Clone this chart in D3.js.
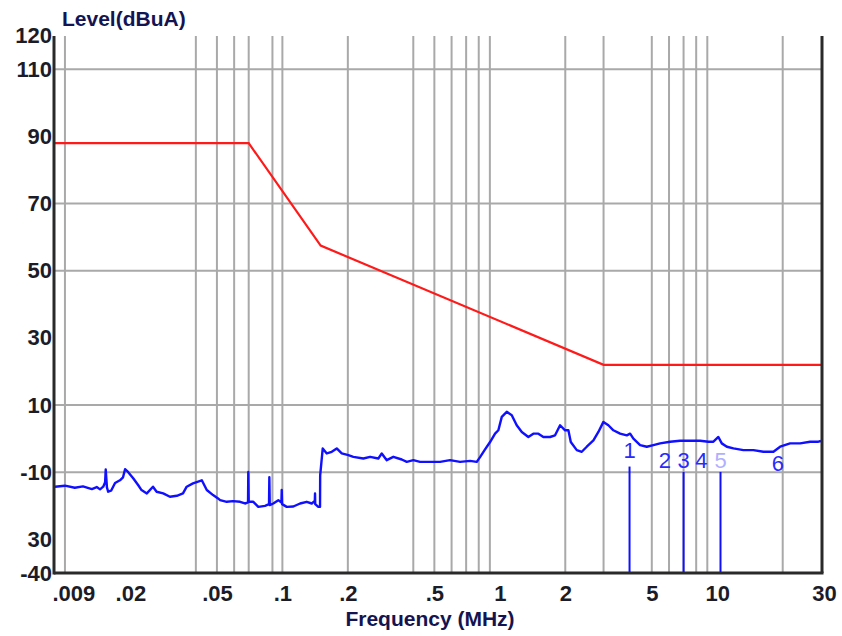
<!DOCTYPE html>
<html>
<head>
<meta charset="utf-8">
<script src="https://cdn.jsdelivr.net/npm/d3@7"></script>
<style>
  body { margin: 0; background: #fff; }
  #chart svg { display: block; }
  .tick text { font-family: "Liberation Sans", Arial, sans-serif; font-weight: bold; font-size: 22px; fill: #1c1c28; }
</style>
</head>
<body>
<div id="chart"></div>
<script>
// frequencies in MHz, levels in dBuA
const xTickValues = [0.009, 0.02, 0.05, 0.1, 0.2, 0.5, 1, 2, 5, 10, 30];
const xTickLabels = [".009", ".02", ".05", ".1", ".2", ".5", "1", "2", "5", "10", "30"];
const yTickValues = [120, 110, 90, 70, 50, 30, 10, -10, -30, -40];
const yTickLabels = ["120", "110", "90", "70", "50", "30", "10", "-10", "30", "-40"];
const xGridValues = [0.01, 0.04, 0.05, 0.06, 0.07, 0.09, 0.1, 0.2, 0.4, 0.5, 0.6, 0.7, 0.8, 0.9, 2, 3, 5, 6, 7, 8, 9, 20];
const yGridValues = [110, 70, 50, 10, -10];

const limitFreq = [0.009, 0.07, 0.15, 3, 30];
const limitLevel = [88, 88, 57.5, 22, 22];

const traceFreq = [
  0.009, 0.0100, 0.0111, 0.0121, 0.0133, 0.0140, 0.0145, 0.0150, 0.0153, 0.0154, 0.0156, 0.0158,
  0.0163, 0.0170, 0.0179, 0.0185, 0.0189, 0.0195, 0.0206, 0.0217, 0.0225, 0.0238, 0.0254, 0.0264,
  0.0283, 0.0304, 0.0327, 0.0349, 0.0363, 0.0388, 0.0426, 0.0449, 0.0480, 0.0506, 0.0517, 0.0555,
  0.0593, 0.0639, 0.0673, 0.0695, 0.0697, 0.0700, 0.0735, 0.0775, 0.0832, 0.0868, 0.0871, 0.0875,
  0.0908, 0.0958, 0.0990, 0.0993, 0.0997, 0.1047, 0.1123, 0.1206, 0.1294, 0.1365, 0.1410, 0.1413,
  0.1416, 0.1463, 0.1490, 0.1492, 0.1533, 0.160, 0.1687, 0.1778, 0.1875, 0.2011, 0.212, 0.2357,
  0.2531, 0.2763, 0.2864, 0.302, 0.3238, 0.354, 0.3733, 0.4002, 0.4297, 0.4778, 0.5312, 0.5903,
  0.6565, 0.7297, 0.7832, 0.8111, 0.8553, 0.9019, 0.9508, 0.9847, 1.021, 1.076, 1.135, 1.196,
  1.262, 1.353, 1.426, 1.504, 1.586, 1.702, 1.795, 1.893, 1.996, 2.067, 2.12, 2.259,
  2.382, 2.511, 2.694, 2.84, 2.995, 3.157, 3.329, 3.574, 3.837, 3.974, 4.115, 4.418,
  4.742, 5.085, 5.46, 6.07, 6.747, 7.5, 8.339, 9.106, 9.6, 10.12, 10.49, 11.07,
  11.87, 13.19, 14.66, 16.3, 18.13, 19.46, 21.63, 24.05, 26.74, 29.19, 30
];
const traceLevel = [
  -14.3, -14.0, -14.6, -14.2, -15.0, -14.4, -15.1, -14.3, -13.0, -9.2, -14.5, -15.8,
  -15.5, -13.2, -12.4, -11.5, -9.1, -9.9, -11.8, -13.8, -15.3, -16.3, -14.3, -15.8,
  -16.3, -17.3, -17.0, -16.3, -14.3, -13.3, -12.4, -15.3, -16.8, -17.8, -18.3, -18.8,
  -18.6, -18.8, -19.3, -19.0, -9.9, -18.8, -18.8, -20.3, -20.0, -19.5, -11.5, -19.8,
  -19.3, -18.3, -19.0, -15.3, -19.5, -20.3, -20.2, -19.3, -18.8, -19.3, -18.5, -16.3,
  -19.5, -20.3, -20.3, -10.9, -2.9, -4.4, -3.9, -2.9, -4.4, -4.9, -5.4, -5.9,
  -5.4, -5.9, -4.4, -6.4, -5.4, -6.2, -6.9, -6.4, -6.9, -6.9, -6.9, -6.4,
  -6.9, -6.6, -6.9, -5.5, -3.2, -1.0, 1.5, 2.5, 6.5, 8.0, 7.0, 4.0,
  2.0, 0.5, 1.5, 1.5, 0.5, 0.5, 1.0, 4.0, 2.5, 2.5, -1.0, -3.4,
  -3.9, -2.4, -0.5, 2.0, 5.0, 4.0, 2.5, 1.5, 1.0, 1.5, 0.0, -1.9,
  -2.4, -1.9, -1.4, -0.9, -0.6, -0.6, -0.6, -0.9, -0.9, 0.5, -1.4, -2.4,
  -2.9, -3.4, -3.4, -3.9, -3.9, -2.4, -1.4, -1.4, -0.9, -0.9, -0.7
];

const markerLabels = ["1", "2", "3", "4", "5", "6"];
const markerFreq = [3.95, 5.75, 7.0, 8.45, 10.35, 19.0];
const stemFreq = [3.95, 7.0, 10.35];
const stemLevel = [-8.3, -9.9, -9.9];

class EmiChart {
  constructor(id) {
    this.elementId = id;
    this.width = 842;
    this.height = 636;
    this.plot = { left: 54, right: 822, top: 36, bottom: 573 };

    this.setScales();
    this.setSVG();
    this.draw();
  }

  setScales() {
    this.x = d3.scaleLog().domain([0.009, 30]).range([55, 821]);
    this.y = d3.scaleLinear().domain([-40, 120]).range([this.plot.bottom, 35.7]);
  }

  setSVG() {
    this.container = d3.select(this.elementId);
    this.container.selectAll("*").remove();
    this.svg = this.container.append("svg")
      .attr("width", this.width)
      .attr("height", this.height);
  }

  draw() {
    const p = this.plot;
    const grid = this.svg.append("g").attr("stroke", "#a9a9a9").attr("stroke-width", 2);

    grid.selectAll("line.v").data(xGridValues).enter().append("line")
      .attr("x1", d => this.x(d)).attr("x2", d => this.x(d))
      .attr("y1", p.top).attr("y2", p.bottom);

    grid.selectAll("line.h").data(yGridValues).enter().append("line")
      .attr("x1", p.left).attr("x2", p.right)
      .attr("y1", d => this.y(d)).attr("y2", d => this.y(d));

    // limit line
    const line = d3.line().x(d => this.x(d[0])).y(d => this.y(d[1]));
    this.svg.append("path")
      .datum(d3.zip(limitFreq, limitLevel))
      .attr("fill", "none").attr("stroke", "#ff1a1a").attr("stroke-width", 2.2)
      .attr("d", line);

    // measured trace
    this.svg.append("path")
      .datum(d3.zip(traceFreq, traceLevel))
      .attr("fill", "none").attr("stroke", "#1010ff").attr("stroke-width", 2.4)
      .attr("stroke-linejoin", "round")
      .attr("d", line);

    // marker stems
    this.svg.append("g").selectAll("line")
      .data(d3.zip(stemFreq, stemLevel)).enter().append("line")
      .attr("x1", d => this.x(d[0])).attr("x2", d => this.x(d[0]))
      .attr("y1", d => this.y(d[1])).attr("y2", p.bottom)
      .attr("stroke", "#1010ff").attr("stroke-width", 2);

    // marker labels
    this.svg.append("g").selectAll("text")
      .data(d3.zip(markerFreq, markerLabels)).enter().append("text")
      .attr("x", d => this.x(d[0]))
      .attr("y", (d, i) => i === 0 ? 458 : (i === 5 ? 471 : 468))
      .attr("text-anchor", "middle")
      .attr("font-family", "Liberation Sans, Arial, sans-serif")
      .attr("font-size", 22)
      .attr("fill", (d, i) => i === 4 ? "#b0b0ff" : "#2a2aff")
      .text(d => d[1]);

    // frame
    const frame = this.svg.append("g").attr("stroke", "#2a2a2a").attr("stroke-width", 3);
    frame.append("line").attr("x1", p.left).attr("x2", p.left).attr("y1", p.top).attr("y2", p.bottom + 1.5);
    frame.append("line").attr("x1", p.left).attr("x2", p.right + 1.5).attr("y1", p.bottom).attr("y2", p.bottom);
    frame.append("line").attr("x1", p.right).attr("x2", p.right).attr("y1", p.top).attr("y2", p.bottom);

    // tick labels via d3 axes
    const xAxis = d3.axisBottom(this.x)
      .tickValues(xTickValues)
      .tickFormat((d, i) => xTickLabels[i])
      .tickSize(0).tickPadding(12);
    const gx = this.svg.append("g").attr("transform", `translate(0,${p.bottom})`).call(xAxis);
    gx.select(".domain").remove();
    gx.selectAll(".tick text").filter((d, i) => i === 0).attr("text-anchor", "start").attr("x", -3);
    gx.selectAll(".tick text").filter((d, i) => i === xTickValues.length - 1).attr("x", 3);

    const yAxis = d3.axisLeft(this.y)
      .tickValues(yTickValues)
      .tickFormat((d, i) => yTickLabels[i])
      .tickSize(0).tickPadding(2);
    const gy = this.svg.append("g").attr("transform", `translate(${p.left},0)`).call(yAxis);
    gy.select(".domain").remove();

    this.svg.append("text")
      .attr("x", 62).attr("y", 26)
      .attr("font-family", "Liberation Sans, Arial, sans-serif")
      .attr("font-weight", "bold").attr("font-size", 21)
      .attr("fill", "#141452")
      .text("Level(dBuA)");

    this.svg.append("text")
      .attr("x", 430).attr("y", 626)
      .attr("text-anchor", "middle")
      .attr("font-family", "Liberation Sans, Arial, sans-serif")
      .attr("font-weight", "bold").attr("font-size", 21)
      .attr("fill", "#141452")
      .text("Frequency (MHz)");
  }
}

new EmiChart("#chart");
</script>
</body>
</html>
